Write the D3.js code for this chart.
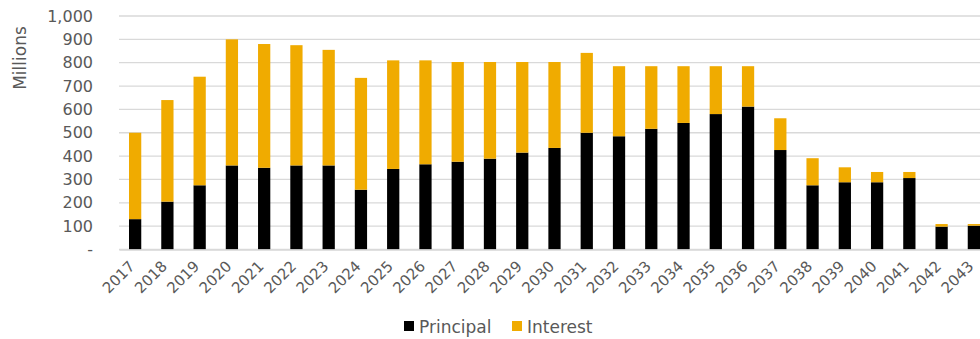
<!DOCTYPE html>
<html><head><meta charset="utf-8">
<script src="https://cdn.jsdelivr.net/npm/d3@7"></script>
<style>body{margin:0;background:#fff;overflow:hidden}svg{display:block}text{font-family:"DejaVu Sans",Verdana,sans-serif;fill:#595959}</style>
</head><body><svg id="c" width="980" height="339"></svg>
<script>
const years = ["2017","2018","2019","2020","2021","2022","2023","2024","2025","2026","2027","2028","2029","2030","2031","2032","2033","2034","2035","2036","2037","2038","2039","2040","2041","2042","2043"];
const principal = [130,205,275,360,350,360,360,256,345,365,376,389,415,435,500,485,517,542,580,612,426,275,288,288,306,98,102];
const interest  = [370,435,465,540,530,515,495,479,465,445,427,414,388,368,342,300,268,243,205,173,136,116,64,44,26,11,7];
const yTicks = [0,100,200,300,400,500,600,700,800,900,1000];
const seriesNames = ["Principal","Interest"];
const colors = ["#000000","#F0AB00"];

const svg = d3.select("#c");
const x = d3.scaleBand().domain(years).range([119,990]).paddingInner(0.62).paddingOuter(0.31);
const y = d3.scaleLinear().domain([0,1000]).range([249.5,16]);

// gridlines
svg.append("g").selectAll("line").data(yTicks).join("line")
  .attr("x1",119).attr("x2",990).attr("y1",d=>y(d)).attr("y2",d=>y(d))
  .attr("stroke","#d9d9d9").attr("stroke-width",1.3);

const fmt = d => d===0 ? "-" : d3.format(",")(d);
const yAxis = svg.append("g").attr("transform","translate(119,0)")
  .call(d3.axisLeft(y).tickValues(yTicks).tickFormat(fmt).tickSize(0).tickPadding(26));
yAxis.select(".domain").remove();
yAxis.selectAll("text").style("font-size","16px").attr("fill","#595959");

const data = years.map((yr,i)=>({year:yr, Principal:principal[i], Interest:interest[i]}));
const stack = d3.stack().keys(seriesNames)(data);
svg.append("g").selectAll("g").data(stack).join("g").attr("fill",(d,i)=>colors[i])
  .selectAll("rect").data(d=>d).join("rect")
  .attr("x",d=>x(d.data.year)).attr("width",x.bandwidth())
  .attr("y",d=>y(d[1])).attr("height",d=>y(d[0])-y(d[1]));

const xAxis = svg.append("g").attr("transform","translate(0,249.5)")
  .call(d3.axisBottom(x).tickSize(0).tickPadding(10));
xAxis.select(".domain").attr("stroke","#d9d9d9").attr("stroke-width",1.3);
xAxis.selectAll("text").style("font-size","15px").attr("fill","#595959")
  .attr("text-anchor","end").attr("x",0).attr("y",0).attr("dy","0.35em")
  .attr("transform","translate(-3,14) rotate(-45)");

svg.append("text").attr("transform","translate(26,58) rotate(-90)")
  .attr("text-anchor","middle").style("font-size","17px").text("Millions");

const leg = svg.append("g");
const legX = [404, 512];
seriesNames.forEach((n,i)=>{
  leg.append("rect").attr("x",legX[i]).attr("y",321).attr("width",10).attr("height",10).attr("fill",colors[i]);
  leg.append("text").attr("x",legX[i]+15).attr("y",333).style("font-size","17px").text(n);
});
</script></body></html>
